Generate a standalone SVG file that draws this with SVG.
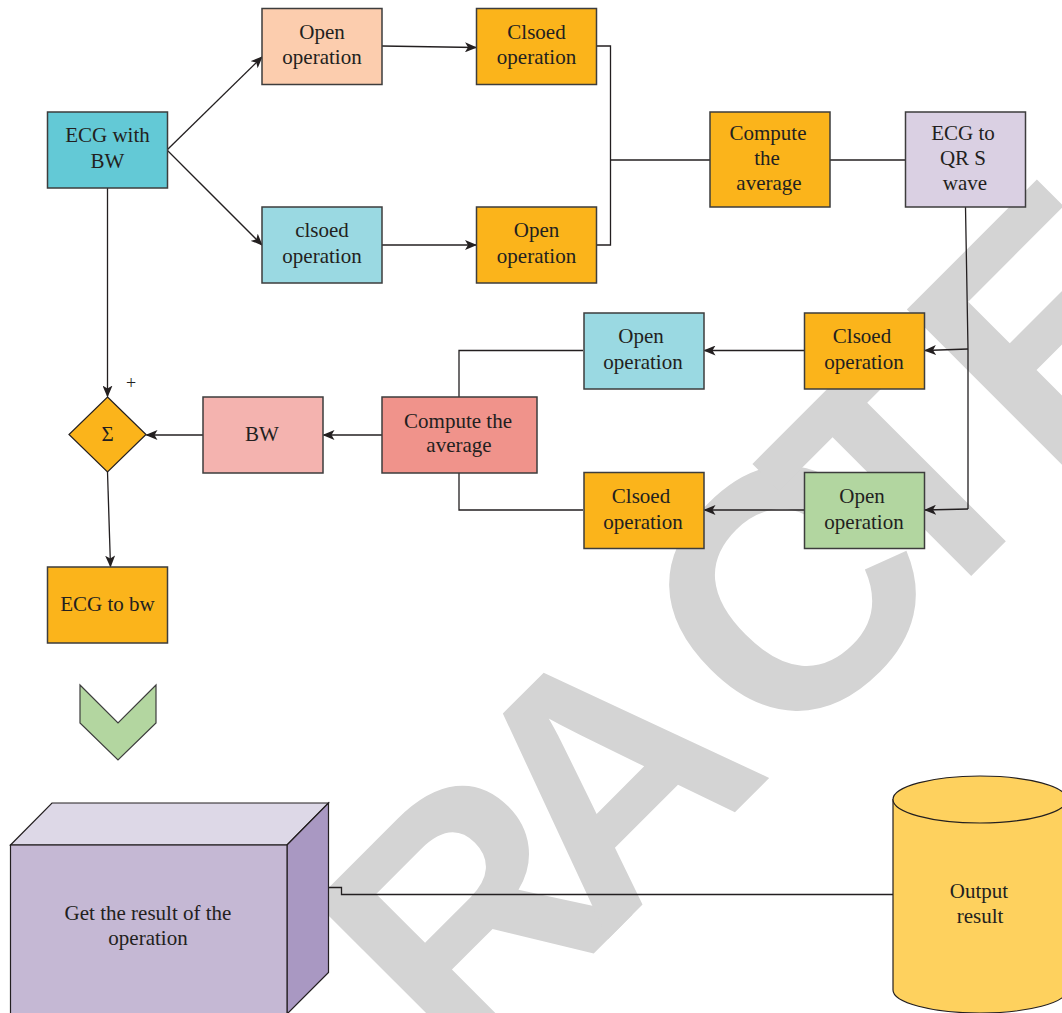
<svg xmlns="http://www.w3.org/2000/svg" width="1062" height="1013" viewBox="0 0 1062 1013">
<defs>
<style>
.box{stroke:#3d3d3d;stroke-width:1.5}
.t{font-family:"Liberation Serif",serif;font-size:21px;fill:#231f20;text-anchor:middle}
.c{fill:none;stroke:#231f20;stroke-width:1.3}
.wm{font-family:"Liberation Sans",Arial,sans-serif;font-weight:bold;font-size:340px;fill:#d4d4d4;text-anchor:middle}
</style>
<marker id="ah" viewBox="0 0 12 10" refX="11" refY="5" markerWidth="12" markerHeight="10" markerUnits="userSpaceOnUse" orient="auto">
<path d="M0,0 L12,5 L0,10 L3,5 Z" fill="#231f20"/>
</marker>
</defs>
<rect width="1062" height="1013" fill="#ffffff"/>
<g id="watermark">
<text class="wm" transform="rotate(-45)" x="-1010 -790 -568 -315 -120 138 304 513 750" y="1094">RETRACTED</text>
</g>
<g id="connectors">
<path class="c" d="M167,150 L262,57" marker-end="url(#ah)"/>
<path class="c" d="M167,150 L262,245" marker-end="url(#ah)"/>
<path class="c" d="M382,46 L476,47.5" marker-end="url(#ah)"/>
<path class="c" d="M382,245 L476,245" marker-end="url(#ah)"/>
<path class="c" d="M596,46 H610.5 V245 H596"/>
<path class="c" d="M610.5,160 H710"/>
<path class="c" d="M830,160 H905"/>
<path class="c" d="M965.5,207 L968,349 V509"/>
<path class="c" d="M968,349 L925,350.5" marker-end="url(#ah)"/>
<path class="c" d="M968,509 L925,510" marker-end="url(#ah)"/>
<path class="c" d="M804,350.5 H704.5" marker-end="url(#ah)"/>
<path class="c" d="M804,510 H704.5" marker-end="url(#ah)"/>
<path class="c" d="M583,350.5 H459 V397"/>
<path class="c" d="M583,510 H459 V473"/>
<path class="c" d="M382,435 H323.5" marker-end="url(#ah)"/>
<path class="c" d="M203,435 H146.5" marker-end="url(#ah)"/>
<path class="c" d="M107.5,188 V396.5" marker-end="url(#ah)"/>
<path class="c" d="M107.5,472 L110.5,566.5" marker-end="url(#ah)"/>
<path class="c" d="M328,887.5 H341.5 V894.5 H893"/>
</g>
<g id="ecg_with_bw">
<rect class="box" x="47.5" y="112" width="120" height="76" fill="#63c9d6"/>
<text class="t" x="107.5" y="142">ECG with</text>
<text class="t" x="107.5" y="168">BW</text>
</g>
<g id="open_op_1">
<rect class="box" x="262" y="8.5" width="120" height="76" fill="#fccdae"/>
<text class="t" x="322" y="38.5">Open</text>
<text class="t" x="322" y="63.5">operation</text>
</g>
<g id="closed_op_1">
<rect class="box" x="476.5" y="8.5" width="120" height="76" fill="#fbb41b"/>
<text class="t" x="536.5" y="38.5">Clsoed</text>
<text class="t" x="536.5" y="63.5">operation</text>
</g>
<g id="closed_op_2">
<rect class="box" x="262" y="207" width="120" height="76" fill="#9ad9e2"/>
<text class="t" x="322" y="237">clsoed</text>
<text class="t" x="322" y="262.5">operation</text>
</g>
<g id="open_op_2">
<rect class="box" x="476.5" y="207" width="120" height="76" fill="#fbb41b"/>
<text class="t" x="536.5" y="237">Open</text>
<text class="t" x="536.5" y="262.5">operation</text>
</g>
<g id="compute_avg_1">
<rect class="box" x="710" y="112" width="120" height="95" fill="#fbb41b"/>
<text class="t" x="768" y="140">Compute</text>
<text class="t" x="767" y="165">the</text>
<text class="t" x="769" y="189.5">average</text>
</g>
<g id="ecg_to_qrs">
<rect class="box" x="905.5" y="112" width="120" height="95" fill="#dad0e3"/>
<text class="t" x="963" y="140">ECG to</text>
<text class="t" x="963" y="165">QR S</text>
<text class="t" x="965" y="189.5">wave</text>
</g>
<g id="closed_op_3">
<rect class="box" x="804.5" y="313" width="120" height="76" fill="#fbb41b"/>
<text class="t" x="862" y="343">Clsoed</text>
<text class="t" x="864" y="368.5">operation</text>
</g>
<g id="open_op_3">
<rect class="box" x="804.5" y="472.5" width="120" height="76" fill="#b2d6a0"/>
<text class="t" x="862" y="503">Open</text>
<text class="t" x="864" y="528.5">operation</text>
</g>
<g id="open_op_4">
<rect class="box" x="584" y="313" width="120" height="76" fill="#9ad9e2"/>
<text class="t" x="641" y="343">Open</text>
<text class="t" x="643" y="368.5">operation</text>
</g>
<g id="closed_op_4">
<rect class="box" x="584" y="472.5" width="120" height="76" fill="#fbb41b"/>
<text class="t" x="641" y="503">Clsoed</text>
<text class="t" x="643" y="528.5">operation</text>
</g>
<g id="compute_avg_2">
<rect class="box" x="382" y="397" width="155" height="76" fill="#f0938b"/>
<text class="t" x="458" y="427.5">Compute the</text>
<text class="t" x="459" y="451.5">average</text>
</g>
<g id="bw">
<rect class="box" x="203" y="397" width="120" height="76" fill="#f4b3af"/>
<text class="t" x="262" y="440.5">BW</text>
</g>
<g id="sum">
<path d="M107.5,397 L146,434.5 L107.5,472 L69,434.5 Z" fill="#fbb41b" stroke="#231f20" stroke-width="1.2"/>
<text class="t" x="107.5" y="441">Σ</text>
<text x="131" y="389" font-family="Liberation Serif,serif" font-size="18" fill="#231f20" text-anchor="middle">+</text>
</g>
<g id="ecg_to_bw">
<rect class="box" x="47.5" y="567" width="120" height="76" fill="#fbb41b"/>
<text class="t" x="107.5" y="610.5">ECG to bw</text>
</g>
<g id="chevron">
<path d="M80,685 L118,723 L156,685 L156,723 L118,760 L80,723 Z" fill="#b3d6a0" stroke="#3d3d3d" stroke-width="1.2"/>
</g>
<g id="result_box">
<path d="M10.5,845 L52,803 L328.5,803 L287,845 Z" fill="#ddd8e7" stroke="#231f20" stroke-width="1.2"/>
<path d="M287,845 L328.5,803 L328.5,972.5 L287,1014 Z" fill="#a998c2" stroke="#231f20" stroke-width="1.2"/>
<rect x="10.5" y="845" width="276.5" height="175" fill="#c5b8d4" stroke="#231f20" stroke-width="1.2"/>
<text class="t" x="148" y="920" font-size="19">Get the result of the</text>
<text class="t" x="148" y="945" font-size="19">operation</text>
</g>
<g id="output_result">
<path d="M893,799.5 V990 A87,23 0 0 0 1067,990 V799.5 Z" fill="#fed15e" stroke="#231f20" stroke-width="1.2"/>
<ellipse cx="980" cy="799.5" rx="87" ry="23.5" fill="#fed15e" stroke="#231f20" stroke-width="1.2"/>
<text class="t" x="979" y="898" font-size="19">Output</text>
<text class="t" x="980" y="923" font-size="19">result</text>
</g>
</svg>
